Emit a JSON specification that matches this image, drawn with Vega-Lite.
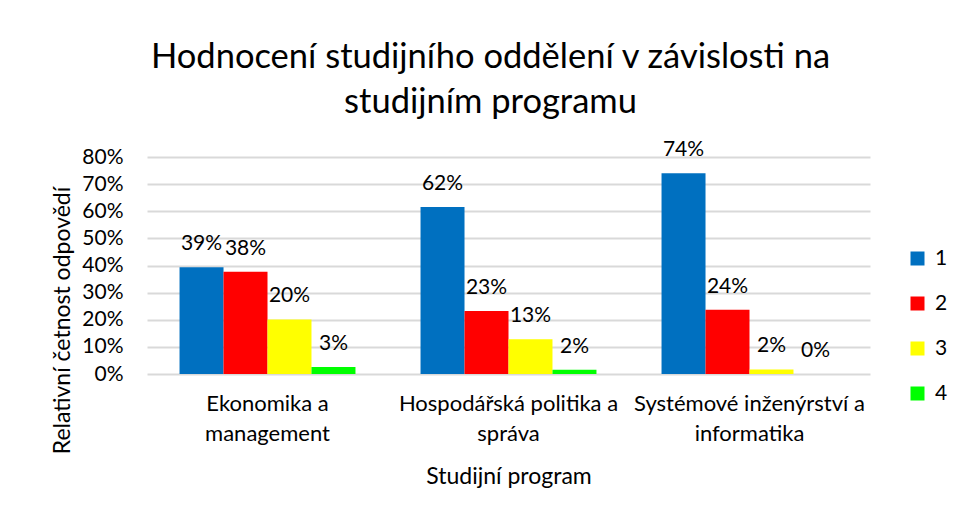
{
  "$schema": "https://vega.github.io/schema/vega-lite/v6.json",
  "width": 723,
  "height": 217,
  "autosize": {"type": "none"},
  "padding": {"left": 147, "top": 157, "right": 86, "bottom": 142},
  "background": "white",
  "title": {
    "text": ["Hodnocení studijního oddělení v závislosti na", "studijním programu"],
    "fontSize": 34.5,
    "font": "Lato",
    "fontWeight": "normal",
    "color": "#000000",
    "anchor": "middle",
    "frame": "group",
    "baseline": "bottom",
    "lineHeight": 45,
    "offset": -15,
    "dx": -18
  },
  "data": {
    "values": [
      {"program": "Ekonomika a management", "hodnoceni": "1", "podil": 0.394},
      {"program": "Ekonomika a management", "hodnoceni": "2", "podil": 0.377},
      {"program": "Ekonomika a management", "hodnoceni": "3", "podil": 0.201},
      {"program": "Ekonomika a management", "hodnoceni": "4", "podil": 0.026},
      {"program": "Hospodářská politika a správa", "hodnoceni": "1", "podil": 0.616},
      {"program": "Hospodářská politika a správa", "hodnoceni": "2", "podil": 0.232},
      {"program": "Hospodářská politika a správa", "hodnoceni": "3", "podil": 0.128},
      {"program": "Hospodářská politika a správa", "hodnoceni": "4", "podil": 0.016},
      {"program": "Systémové inženýrství a informatika", "hodnoceni": "1", "podil": 0.74},
      {"program": "Systémové inženýrství a informatika", "hodnoceni": "2", "podil": 0.237},
      {"program": "Systémové inženýrství a informatika", "hodnoceni": "3", "podil": 0.017},
      {"program": "Systémové inženýrství a informatika", "hodnoceni": "4", "podil": 0.0}
    ]
  },
  "encoding": {
    "x": {
      "field": "program",
      "type": "nominal",
      "sort": null,
      "scale": {"paddingInner": 0.27, "paddingOuter": 0.135},
      "axis": {
        "title": "Studijní program",
        "labelAngle": 0,
        "domain": false,
        "ticks": false,
        "labelFont": "Lato",
        "labelFontSize": 22,
        "labelColor": "#000000",
        "labelPadding": 19,
        "labelLineHeight": 30,
        "labelLimit": 0,
        "labelBaseline": "top",
        "labelExpr": "datum.label == 'Ekonomika a management' ? ['Ekonomika a','management'] : datum.label == 'Hospodářská politika a správa' ? ['Hospodářská politika a','správa'] : ['Systémové inženýrství a','informatika']",
        "titleFont": "Lato",
        "titleFontSize": 23,
        "titleFontWeight": "normal",
        "titleColor": "#000000",
        "titlePadding": 21
      }
    },
    "xOffset": {"field": "hodnoceni", "type": "nominal", "scale": {"paddingInner": 0, "paddingOuter": 0}},
    "y": {
      "field": "podil",
      "type": "quantitative",
      "scale": {"domain": [0, 0.8], "nice": false},
      "axis": {
        "title": "Relativní četnost odpovědí",
        "values": [0, 0.1, 0.2, 0.3, 0.4, 0.5, 0.6, 0.7, 0.8],
        "format": ".0%",
        "domain": false,
        "ticks": false,
        "grid": true,
        "gridColor": "#D9D9D9",
        "gridWidth": 2,
        "labelFont": "Lato",
        "labelFontSize": 21,
        "labelColor": "#000000",
        "labelPadding": 24,
        "titleFont": "Lato",
        "titleFontSize": 23,
        "titleFontWeight": "normal",
        "titleColor": "#000000",
        "titleX": -85,
        "titleY": 163,
        "titleAlign": "center",
        "titleBaseline": "middle",
        "titleAngle": -90
      }
    }
  },
  "layer": [
    {
      "mark": {"type": "bar"},
      "encoding": {
        "color": {
          "field": "hodnoceni",
          "type": "nominal",
          "scale": {"domain": ["1", "2", "3", "4"], "range": ["#0070C0", "#FF0000", "#FFFF00", "#00FF00"]},
          "legend": {
            "title": null,
            "orient": "none",
            "legendX": 760,
            "legendY": 91,
            "symbolType": "square",
            "symbolSize": 196,
            "symbolStrokeWidth": 0,
            "labelFont": "Lato",
            "labelFontSize": 21,
            "labelColor": "#000000",
            "labelOffset": 7,
            "rowPadding": 23
          }
        }
      }
    },
    {
      "mark": {"type": "text", "font": "Lato", "fontSize": 21, "color": "#000000", "baseline": "alphabetic", "dy": -17},
      "encoding": {
        "text": {"field": "podil", "type": "quantitative", "format": ".0%"}
      }
    }
  ],
  "config": {
    "view": {"stroke": null}
  }
}
